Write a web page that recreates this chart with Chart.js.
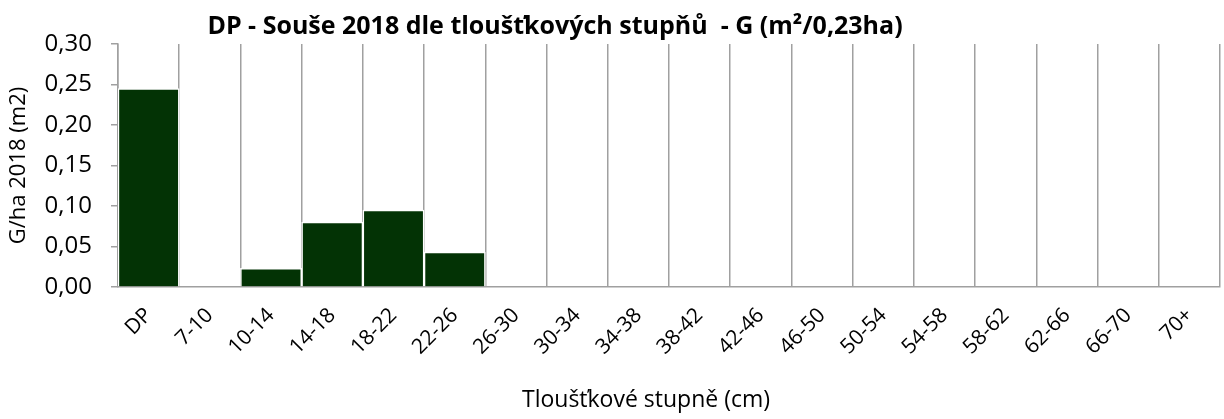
<!DOCTYPE html>
<html>
<head>
<meta charset="utf-8">
<script src="https://cdn.jsdelivr.net/npm/chart.js@4"></script>
<style>
  html, body { margin: 0; padding: 0; background: #fff; }
  #wrap { width: 1224px; height: 419px; }
</style>
</head>
<body>
<div id="wrap"><canvas id="chart"></canvas></div>
<script>
  // Chart data.
  const categories = ['DP', '7-10', '10-14', '14-18', '18-22', '22-26', '26-30', '30-34', '34-38',
    '38-42', '42-46', '46-50', '50-54', '54-58', '58-62', '62-66', '66-70', '70+'];
  const values = [0.245, 0, 0.023, 0.080, 0.095, 0.043, 0, 0, 0, 0, 0, 0, 0, 0, 0, 0, 0, 0];
  const yTicks = [0, 0.05, 0.10, 0.15, 0.20, 0.25, 0.30];

  const titleText = 'DP - Souše 2018 dle tloušťkových stupňů  - G (m²/0,23ha)';
  const xTitleText = 'Tloušťkové stupně (cm)';
  const fontFamily = '"Open Sans", Lato, sans-serif';

  // Chart title and x axis title sit off-centre in the original, so draw them here.
  const titlePlugin = {
    id: 'offTitles',
    afterDraw: function (chart) {
      const ctx = chart.ctx;
      ctx.save();
      ctx.fillStyle = '#000';
      ctx.textAlign = 'center';
      ctx.textBaseline = 'middle';
      ctx.font = 'bold 25px ' + fontFamily;
      ctx.fillText(titleText, 555, 27);
      ctx.font = '23px ' + fontFamily;
      ctx.fillText(xTitleText, 646, 400);
      ctx.restore();
    },
  };

  new Chart(document.getElementById('chart'), {
    type: 'bar',
    data: {
      labels: categories,
      datasets: [
        {
          data: values,
          backgroundColor: '#033305',
          borderColor: '#ffffff',
          borderWidth: 1.5,
          barPercentage: 1,
          categoryPercentage: 1,
        },
      ],
    },
    options: {
      responsive: true,
      maintainAspectRatio: false,
      animation: false,
      layout: {
        padding: { top: 44, right: 4, left: 0, bottom: 0 },
      },
      plugins: {
        legend: { display: false },
        tooltip: { enabled: false },
      },
      scales: {
        x: {
          offset: true,
          grid: {
            offset: true,
            color: '#a0a0a0',
            lineWidth: 1.5,
            drawTicks: false,
          },
          border: { color: '#a0a0a0', width: 1.5 },
          ticks: {
            minRotation: 45,
            maxRotation: 45,
            padding: 16,
            color: '#000',
            font: { family: fontFamily, size: 21 },
          },
          afterFit: function (scale) {
            scale.height = 132;
          },
        },
        y: {
          min: 0,
          max: 0.30,
          afterBuildTicks: function (scale) {
            scale.ticks = yTicks.map(v => ({ value: v }));
          },
          grid: {
            drawOnChartArea: false,
            drawTicks: true,
            tickLength: 7,
            color: '#a0a0a0',
            lineWidth: 1.5,
          },
          border: { color: '#a0a0a0', width: 1.5 },
          ticks: {
            color: '#000',
            padding: 19,
            font: { family: fontFamily, size: 24 },
            callback: function (value) {
              return value.toFixed(2).replace('.', ',');
            },
          },
          title: {
            display: true,
            text: 'G/ha 2018 (m2)',
            color: '#000',
            font: { family: fontFamily, size: 22 },
            padding: { top: 6, bottom: 0 },
          },
          afterFit: function (scale) {
            scale.width = 118;
          },
        },
      },
    },
    plugins: [titlePlugin],
  });
</script>
</body>
</html>
